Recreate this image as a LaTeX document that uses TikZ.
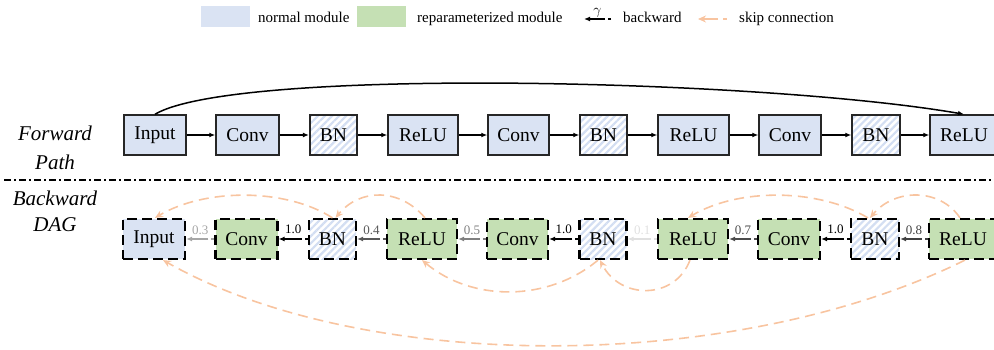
\documentclass[tikz,border=0pt]{standalone}
\usepackage{fontspec}
\setmainfont{Liberation Serif}
\usetikzlibrary{arrows.meta,patterns.meta,calc}
\definecolor{nblue}{HTML}{DAE3F3}
\definecolor{rgreen}{HTML}{C5E0B4}
\definecolor{hatchc}{HTML}{D3DEF2}
\definecolor{skipc}{HTML}{F8C4A0}
\begin{document}
\begin{tikzpicture}[x=1pt,y=1pt,
  mod/.style={draw=black!85, line width=1.5pt, minimum height=40pt, inner sep=0pt, font=\fontsize{19.5}{22}\selectfont},
  nrm/.style={fill=nblue},
  rep/.style={fill=rgreen},
  hatch/.style={pattern={Lines[angle=45,distance=5pt,line width=2.2pt]}, pattern color=hatchc},
  dmod/.style={mod, draw=black, line width=2.2pt, dash pattern=on 10pt off 5pt},
  fwd/.style={-{Latex[length=6pt,width=5pt]}, line width=1.5pt},
  bwd/.style={-{Latex[length=6pt,width=5pt]}, line width=1.6pt, dash pattern=on 3pt off 3pt on 300pt},
  bwdk/.style={bwd, line width=2.1pt},
  wlab/.style={font=\fontsize{13}{15}\selectfont, inner sep=1pt, above=3pt},
  skip/.style={draw=skipc, line width=1.6pt, dash pattern=on 10pt off 6pt, -{Stealth[length=8pt,width=7pt]}},
  side/.style={font=\fontsize{21}{24}\selectfont\itshape},
  leg/.style={font=\fontsize{15}{18}\selectfont, inner sep=0pt, anchor=base west},
]
\useasboundingbox (0,0) rectangle (994,349);

% legend
\node[fill=nblue, minimum width=49pt, minimum height=21pt, inner sep=0pt] (lg1) at (225.5,332.5) {};
\node[leg] (lt1) at (258,326) {normal module};
\node[fill=rgreen, minimum width=49pt, minimum height=21pt, inner sep=0pt] (lg2) at (381.5,332.5) {};
\node[leg] (lt2) at (417,326) {reparameterized module};
\coordinate (la1) at (611,330);
\coordinate (la2) at (584,330);
\draw[bwdk] (la1) -- (la2) node[midway, above=1pt, inner sep=0pt, font=\fontsize{15}{17}\selectfont] (lgam) {$\gamma$};
\node[leg] (lt3) at (623,326) {backward};
\coordinate (lb1) at (727,330);
\coordinate (lb2) at (698,330);
\draw[skip, dash pattern=on 4pt off 5pt on 100pt] (lb1) -- (lb2);
\node[leg] (lt4) at (739,326) {skip connection};

% side labels
\node[side] (s1) at (55,216) {Forward};
\node[side] (s2) at (55,187) {Path};
\node[side] (s3) at (55,151) {Backward};
\node[side] (s4) at (55,124) {DAG};
\coordinate (sepA) at (4,169);
\coordinate (sepB) at (994,169);
\draw[line width=1.5pt, dash pattern=on 7pt off 3pt on 2pt off 3pt] (sepA) -- (sepB);

% forward path
\node[mod,nrm,minimum width=62pt] (fi) at (155,214) {Input};
\node[mod,nrm,minimum width=63pt] (fc1) at (247.5,214) {Conv};
\node[mod,hatch,minimum width=47pt] (fb1) at (333.5,214) {BN};
\node[mod,nrm,minimum width=70pt] (fr1) at (423,214) {ReLU};
\node[mod,nrm,minimum width=61pt] (fc2) at (518.5,214) {Conv};
\node[mod,hatch,minimum width=47pt] (fb2) at (603.5,214) {BN};
\node[mod,nrm,minimum width=71pt] (fr2) at (693.5,214) {ReLU};
\node[mod,nrm,minimum width=62pt] (fc3) at (790,214) {Conv};
\node[mod,hatch,minimum width=48pt] (fb3) at (876,214) {BN};
\node[mod,nrm,minimum width=68pt] (fr3) at (964,214) {ReLU};
\draw[fwd] (fi) -- (fc1);
\draw[fwd] (fc1) -- (fb1);
\draw[fwd] (fb1) -- (fr1);
\draw[fwd] (fr1) -- (fc2);
\draw[fwd] (fc2) -- (fb2);
\draw[fwd] (fb2) -- (fr2);
\draw[fwd] (fr2) -- (fc3);
\draw[fwd] (fc3) -- (fb3);
\draw[fwd] (fb3) -- (fr3);
\draw[fwd] (fi.north) .. controls (235,282) and (760,270) .. (fr3.north);

% backward DAG
\node[dmod,nrm,minimum width=62pt] (bi) at (154,110) {Input};
\node[dmod,rep,minimum width=62pt] (bc1) at (246.5,110) {Conv};
\node[dmod,hatch,minimum width=47pt] (bb1) at (332.5,110) {BN};
\node[dmod,rep,minimum width=70pt] (br1) at (422,110) {ReLU};
\node[dmod,rep,minimum width=61pt] (bc2) at (517.5,110) {Conv};
\node[dmod,hatch,minimum width=47pt] (bb2) at (603,110) {BN};
\node[dmod,rep,minimum width=70pt] (br2) at (693,110) {ReLU};
\node[dmod,rep,minimum width=62pt] (bc3) at (789,110) {Conv};
\node[dmod,hatch,minimum width=48pt] (bb3) at (875,110) {BN};
\node[dmod,rep,minimum width=68pt] (br3) at (963,110) {ReLU};

\draw[bwd, black!35] (bc1) -- (bi) node[midway, wlab] {0.3};
\draw[bwdk, black] (bb1) -- (bc1) node[midway, wlab] {1.0};
\draw[bwd, black!65] (br1) -- (bb1) node[midway, wlab] {0.4};
\draw[bwd, black!50] (bc2) -- (br1) node[midway, wlab] {0.5};
\draw[bwdk, black] (bb2) -- (bc2) node[midway, wlab] {1.0};
\draw[bwd, black!12] (br2) -- (bb2) node[midway, wlab] {0.1};
\draw[bwd, black!70] (bc3) -- (br2) node[midway, wlab] {0.7};
\draw[bwdk, black] (bb3) -- (bc3) node[midway, wlab] {1.0};
\draw[bwd, black!75] (br3) -- (bb3) node[midway, wlab] {0.8};

% skip connections
\draw[skip] ($(bb1.north)+(0,0)$) .. controls (286,161) and (205,161) .. ($(bi.north)+(1,0)$);
\draw[skip] ($(br1.north)+(3,0)$) .. controls (400,161) and (360,161) .. ($(bb1.north)+(3,0)$);
\draw[skip] ($(bb2.south)+(-5,0)$) .. controls (548,47) and (472,47) .. ($(br1.south)+(0,0)$);
\draw[skip] ($(br2.south)+(-3,0)$) .. controls (675,49) and (620,49) .. ($(bb2.south)+(-3,0)$);
\draw[skip] ($(bb3.north)+(-7,0)$) .. controls (818,161) and (738,161) .. ($(br2.north)+(-5,0)$);
\draw[skip] ($(br3.north)+(-3,0)$) .. controls (940,161) and (895,161) .. ($(bb3.north)+(-5,0)$);
\draw[skip] ($(br3.south)+(2,0)$) .. controls (735,-25) and (363,-25) .. ($(bi.south)+(9,0)$);
\end{tikzpicture}
\end{document}
